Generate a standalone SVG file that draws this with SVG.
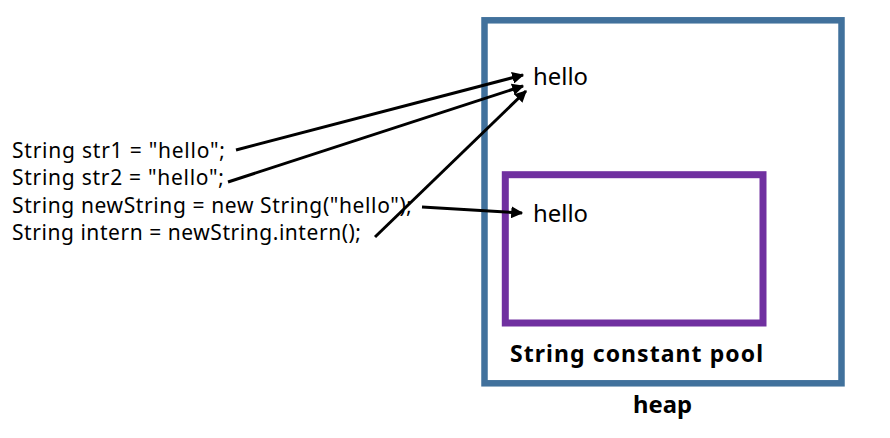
<svg xmlns="http://www.w3.org/2000/svg" width="890" height="438" viewBox="0 0 890 438">
<style>
.code{font-family:"Noto Sans","Open Sans","Liberation Sans",sans-serif;font-size:21px;fill:#000}
.val{font-family:"Noto Sans","Open Sans","Liberation Sans",sans-serif;font-size:23px;fill:#000}
.bold{font-family:"Noto Sans","Open Sans","Liberation Sans",sans-serif;font-size:23px;font-weight:bold;fill:#000}
.conn line{stroke:#000;stroke-width:3;marker-end:url(#ah)}
</style>
<defs>
<marker id="ah" viewBox="0 0 10 10" refX="9" refY="5" markerWidth="4" markerHeight="4" orient="auto" markerUnits="strokeWidth">
<path d="M0,0 L10,5 L0,10 z" fill="#000"/>
</marker>
</defs>
<rect width="890" height="438" fill="#fff"/>
<g id="heap">
<rect x="484.5" y="20.3" width="357" height="363" fill="none" stroke="#41719C" stroke-width="6.5"/>
<text class="bold" x="633" y="413" textLength="59" lengthAdjust="spacingAndGlyphs">heap</text>
</g>
<g id="pool">
<rect x="505.3" y="174.7" width="257.7" height="148.3" fill="none" stroke="#7030A0" stroke-width="7"/>
<text class="bold" x="510" y="362" textLength="253" lengthAdjust="spacing">String constant pool</text>
</g>
<g id="hello1"><text class="val" x="533" y="85" textLength="55" lengthAdjust="spacingAndGlyphs">hello</text></g>
<g id="hello2"><text class="val" x="533" y="222" textLength="55" lengthAdjust="spacingAndGlyphs">hello</text></g>
<g id="code">
<text class="code" x="12" y="158" textLength="213" lengthAdjust="spacing">String str1 = "hello";</text>
<text class="code" x="12" y="185" textLength="212" lengthAdjust="spacing">String str2 = "hello";</text>
<text class="code" x="12" y="213" textLength="400" lengthAdjust="spacing">String newString = new String("hello");</text>
<text class="code" x="12" y="240" textLength="349" lengthAdjust="spacing">String intern = newString.intern();</text>
</g>
<g class="conn" id="connectors">
<line x1="236" y1="150" x2="523" y2="75"/>
<line x1="228" y1="182" x2="523" y2="86"/>
<line x1="375" y1="237" x2="526" y2="91"/>
<line x1="422" y1="207" x2="522" y2="213"/>
</g>
</svg>
